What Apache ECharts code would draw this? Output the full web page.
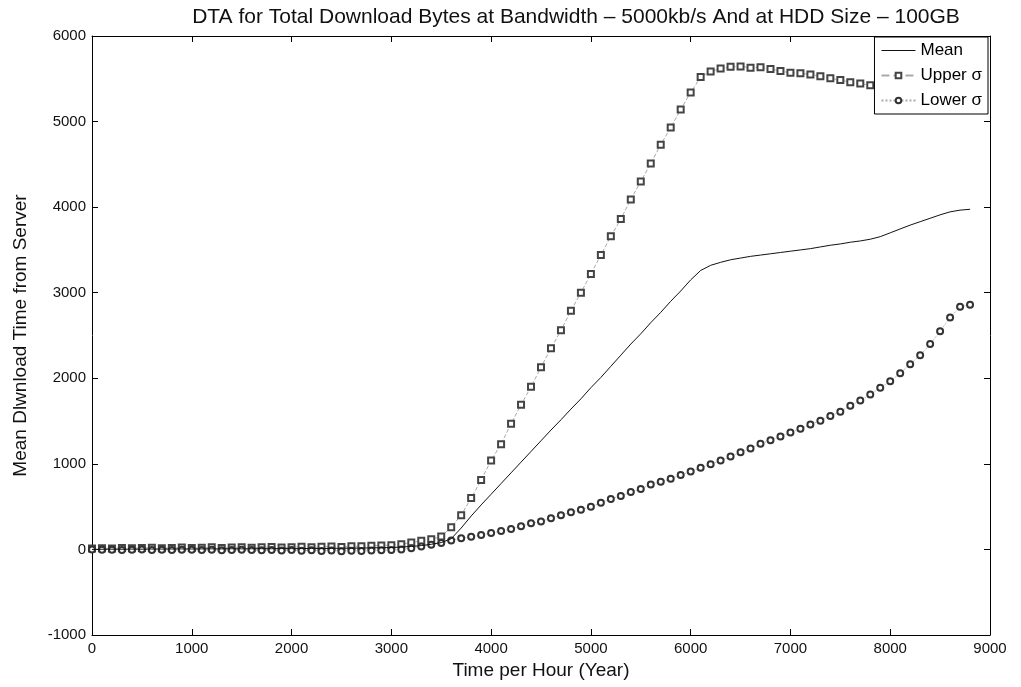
<!DOCTYPE html>
<html>
<head>
<meta charset="utf-8">
<script src="https://cdn.jsdelivr.net/npm/echarts@6/dist/echarts.min.js"></script>
<style>
  html, body { margin: 0; padding: 0; background: #fff; }
  #chart { width: 1021px; height: 687px; }
</style>
</head>
<body>
<div id="chart"></div>
<script>
// sample hours, every 100 h from 0 to 8800
const hours = [];
for (let h = 0; h <= 8800; h += 100) hours.push(h);

const meanValues = [
    0, 2, 3, 2, 4, 3, 5, 4, 5, 6, 5, 6, 7, 6, 8, 7, 8, 9, 8, 10,
    9, 10, 12, 11, 12, 14, 15, 16, 18, 20, 22,
    28, 35, 45, 60, 80, 125, 250, 390, 520,
    645, 770, 895, 1020, 1145, 1270, 1395, 1515, 1640, 1760,
    1890, 2010, 2140, 2270, 2400, 2520, 2650, 2770, 2900, 3020,
    3150, 3260, 3320, 3355, 3385, 3405, 3425, 3440, 3455, 3470,
    3485, 3500, 3515, 3535, 3555, 3570, 3590, 3605, 3625, 3655,
    3700, 3745, 3790, 3830, 3870, 3910, 3945, 3965, 3975
];
const upperValues = [
    10, 15, 12, 18, 14, 16, 20, 15, 18, 22, 16, 20, 24, 18, 22, 26, 20, 24, 28, 22,
    26, 30, 24, 30, 34, 28, 36, 38, 42, 46, 50,
    60, 80, 100, 120, 150, 260, 400, 600, 810,
    1040, 1230, 1470, 1690, 1900, 2130, 2350, 2560, 2790, 3000,
    3220, 3440, 3660, 3860, 4090, 4300, 4510, 4730, 4930, 5140,
    5340, 5520, 5585, 5620, 5640, 5645, 5630, 5635, 5615, 5590,
    5570, 5565, 5550, 5530, 5505, 5485, 5460, 5445, 5425, 5405,
    5390, 5375, 5360, 5345, 5330, 5315, 5300, 5290, 5280
];
const lowerValues = [
    0, -5, -3, -8, -5, -2, -6, -4, -8, -5, -3, -7, -5, -9, -6, -4, -8, -10, -6, -12,
    -8, -15, -10, -18, -12, -20, -15, -18, -12, -10, -8,
    0, 15, 35, 55, 75, 105, 130, 148, 168,
    192, 215, 240, 270, 305, 325, 365, 400, 435, 465,
    500, 545, 590, 625, 670, 706, 760, 790, 825, 870,
    910, 955, 995, 1040, 1085, 1135, 1180, 1235, 1275, 1320,
    1365, 1410, 1460, 1505, 1560, 1610, 1680, 1740, 1810, 1890,
    1965, 2060, 2165, 2270, 2400, 2550, 2710, 2835, 2860
];
const seriesNames = ['Mean', 'Upper \u03c3', 'Lower \u03c3'];

const font = 'Liberation Sans, Arial, sans-serif';
const pair = (vals) => hours.map((h, i) => [h, vals[i]]);

const init = () => {
    const myChart = echarts.init(document.getElementById('chart'));
    const boxAxis = {
        axisLine: { show: true, onZero: false, lineStyle: { color: '#000', width: 1 } },
        axisTick: { show: true, inside: true, length: 6, lineStyle: { color: '#000' } },
        splitLine: { show: false }
    };
    const tickLabel = { fontFamily: font, fontSize: 15, color: '#111', margin: 6, formatter: (v) => String(v) };
    let option = {
        backgroundColor: '#fff',
        animation: false,
        title: {
            text: 'DTA for Total Download Bytes at Bandwidth \u2013 5000kb/s And at HDD Size \u2013 100GB',
            left: 571,
            textAlign: 'center',
            top: 2,
            textStyle: { fontFamily: font, fontSize: 21, fontWeight: 'normal', color: '#111' }
        },
        legend: {
            orient: 'vertical',
            right: 33,
            top: 37,
            data: [
                { name: seriesNames[0], icon: 'path://M0,5 L34,5 L34,6 L0,6 Z' },
                seriesNames[1],
                seriesNames[2]
            ],
            backgroundColor: '#fff',
            borderColor: '#000',
            borderWidth: 1,
            borderRadius: 0,
            padding: [5, 6, 5, 6],
            itemGap: 8,
            itemWidth: 34,
            itemHeight: 7,
            textStyle: { fontFamily: font, fontSize: 17, color: '#000' }
        },
        grid: { left: 92, right: 31, top: 36, bottom: 52 },
        xAxis: [
            Object.assign({
                type: 'value', min: 0, max: 9000, interval: 1000,
                name: 'Time per Hour (Year)', nameLocation: 'middle', nameGap: 25,
                nameTextStyle: { fontFamily: font, fontSize: 19, color: '#111' },
                axisLabel: tickLabel
            }, boxAxis),
            Object.assign({
                type: 'value', min: 0, max: 9000, interval: 1000, position: 'top',
                axisLabel: { show: false }
            }, boxAxis)
        ],
        yAxis: [
            Object.assign({
                type: 'value', min: -1000, max: 6000, interval: 1000,
                name: 'Mean Dlwnload Time from Server', nameLocation: 'middle', nameGap: 62,
                nameTextStyle: { fontFamily: font, fontSize: 19, color: '#111' },
                axisLabel: tickLabel
            }, boxAxis),
            Object.assign({
                type: 'value', min: -1000, max: 6000, interval: 1000, position: 'right',
                axisLabel: { show: false }
            }, boxAxis)
        ],
        series: [
            {
                name: seriesNames[0],
                type: 'line',
                data: pair(meanValues),
                symbol: 'none',
                lineStyle: { color: '#111', width: 1 },
                itemStyle: { color: '#111' },
                z: 3
            },
            {
                name: seriesNames[1],
                type: 'line',
                data: pair(upperValues),
                symbol: 'emptyRect',
                symbolSize: 6,
                showSymbol: true,
                showAllSymbol: true,
                lineStyle: { color: '#aaa', width: 1, type: 'dashed' },
                itemStyle: { color: '#444', borderWidth: 0.9 },
                z: 2
            },
            {
                name: seriesNames[2],
                type: 'line',
                data: pair(lowerValues),
                symbol: 'emptyCircle',
                symbolSize: 6,
                showSymbol: true,
                showAllSymbol: true,
                lineStyle: { color: '#aaa', width: 1, type: 'dotted' },
                itemStyle: { color: '#333', borderWidth: 1 },
                z: 2
            }
        ]
    };
    myChart.setOption(option);
    window.addEventListener('resize', () => {
        myChart.resize();
    });
};
init();
</script>
</body>
</html>
